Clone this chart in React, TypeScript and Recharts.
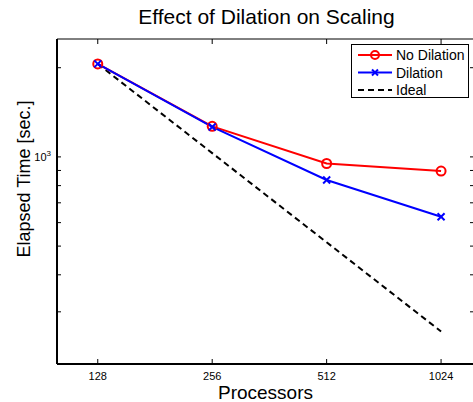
import React from 'react';
import { LineChart, Line, XAxis, YAxis, Legend } from 'recharts';

const processors = [128, 256, 512, 1024];
const noDilation = [2060, 1268, 950, 896];
const dilation = [2060, 1262, 836, 628];
const ideal = [2060, 1030, 515, 257.5];

const xTicks = [128, 256, 512, 1024];
const yTicks = [200, 300, 400, 500, 600, 700, 800, 900, 1000, 2000];
const yLabelled = [1000];

const FONT = '"Liberation Sans", Arial, Helvetica, sans-serif';

const data = processors.map((p, i) => ({
  p,
  nd: noDilation[i],
  d: dilation[i],
  ideal: ideal[i],
}));

const CircleDot = (props: any) => {
  const { cx, cy } = props;
  if (cx == null || cy == null) return null;
  return <circle cx={cx} cy={cy} r={4.5} fill="none" stroke="#ff0000" strokeWidth={2} />;
};

const CrossDot = (props: any) => {
  const { cx, cy } = props;
  if (cx == null || cy == null) return null;
  const s = 3.5;
  return (
    <g stroke="#0000ff" strokeWidth={2}>
      <line x1={cx - s} y1={cy - s} x2={cx + s} y2={cy + s} />
      <line x1={cx - s} y1={cy + s} x2={cx + s} y2={cy - s} />
    </g>
  );
};

const YTick = (props: any) => {
  const { x, y, payload } = props;
  if (!yLabelled.includes(payload.value)) return null;
  return (
    <text x={x} y={y + 4} textAnchor="end" fontFamily={FONT} fontSize={11} fill="#000">
      <tspan>10</tspan>
      <tspan dy={-5} fontSize={8}>3</tspan>
    </text>
  );
};

const XTick = (props: any) => {
  const { x, y, payload } = props;
  return (
    <text x={x} y={y + 9} textAnchor="middle" fontFamily={FONT} fontSize={11} fill="#000">
      {payload.value}
    </text>
  );
};

const legendItems = [
  { name: 'No Dilation', color: '#ff0000', kind: 'circle' },
  { name: 'Dilation', color: '#0000ff', kind: 'cross' },
  { name: 'Ideal', color: '#000000', kind: 'dash' },
];

const LegendBox = () => (
  <svg width={119} height={55} style={{ display: 'block' }}>
    <rect x={0.5} y={0.5} width={117} height={53} fill="#fff" stroke="#000" strokeWidth={1} />
    {legendItems.map((it, i) => {
      const cy = 11 + i * 17.5;
      return (
        <g key={it.name}>
          <line
            x1={7}
            x2={41}
            y1={cy}
            y2={cy}
            stroke={it.color}
            strokeWidth={2}
            strokeDasharray={it.kind === 'dash' ? '6 4' : undefined}
          />
          {it.kind === 'circle' && (
            <circle cx={24} cy={cy} r={4} fill="none" stroke={it.color} strokeWidth={2} />
          )}
          {it.kind === 'cross' && (
            <g stroke={it.color} strokeWidth={2}>
              <line x1={21} y1={cy - 3} x2={27} y2={cy + 3} />
              <line x1={21} y1={cy + 3} x2={27} y2={cy - 3} />
            </g>
          )}
          <text x={45} y={cy + 5} fontFamily={FONT} fontSize={14} fill="#000">
            {it.name}
          </text>
        </g>
      );
    })}
  </svg>
);

const YLabel = (props: any) => {
  const cx = 30;
  const cy = 179;
  return (
    <text
      x={cx}
      y={cy}
      transform={`rotate(-90, ${cx}, ${cy})`}
      textAnchor="middle"
      fontFamily={FONT}
      fontSize={18}
      fill="#000"
    >
      Elapsed Time [sec.]
    </text>
  );
};

export default function App() {
  return (
    <div
      style={{
        position: 'absolute',
        left: 0,
        top: 0,
        width: 473,
        height: 402,
        overflow: 'hidden',
        background: '#fff',
      }}
    >
      <div
        style={{
          position: 'absolute',
          left: 0,
          top: 4,
          width: 533,
          textAlign: 'center',
          fontFamily: FONT,
          fontSize: 21,
          lineHeight: '26px',
          color: '#000',
        }}
      >
        Effect of Dilation on Scaling
      </div>
      <div style={{ position: 'absolute', left: 0, top: 0 }}>
        <LineChart
          width={476}
          height={402}
          data={data}
          margin={{ top: 38, right: 1, bottom: 0, left: 0 }}
        >
          <XAxis
            dataKey="p"
            type="number"
            scale="log"
            domain={[100, 1250]}
            allowDataOverflow
            ticks={xTicks}
            tickSize={-5}
            tickMargin={12}
            height={38}
            axisLine={{ stroke: '#000', strokeWidth: 2 }}
            tickLine={{ stroke: '#000', strokeWidth: 1 }}
            tick={<XTick />}
            interval={0}
            label={{
              value: 'Processors',
              position: 'insideBottom',
              offset: 3,
              fontFamily: FONT,
              fontSize: 19,
              fill: '#000',
            }}
          />
          <XAxis
            xAxisId="top"
            orientation="top"
            dataKey="p"
            type="number"
            scale="log"
            domain={[100, 1250]}
            allowDataOverflow
            ticks={xTicks}
            tickSize={-5}
            height={1}
            axisLine={{ stroke: '#000', strokeWidth: 1 }}
            tickLine={{ stroke: '#000', strokeWidth: 1 }}
            tick={() => null}
            interval={0}
          />
          <YAxis
            type="number"
            scale="log"
            domain={[200, 2500]}
            allowDataOverflow
            ticks={yTicks}
            tickSize={-4}
            tickMargin={10}
            width={57}
            axisLine={{ stroke: '#000', strokeWidth: 2 }}
            tickLine={{ stroke: '#000', strokeWidth: 1 }}
            tick={<YTick />}
            interval={0}
            label={<YLabel />}
          />
          <YAxis
            yAxisId="right"
            orientation="right"
            type="number"
            scale="log"
            domain={[200, 2500]}
            allowDataOverflow
            ticks={yTicks}
            tickSize={-4}
            width={1}
            axisLine={{ stroke: '#000', strokeWidth: 1 }}
            tickLine={{ stroke: '#000', strokeWidth: 1 }}
            tick={() => null}
            interval={0}
          />
          <Legend
            layout="vertical"
            align="center"
            verticalAlign="middle"
            content={<LegendBox />}
            wrapperStyle={{ left: 351, top: 44, width: 119, height: 55 }}
          />
          <Line
            dataKey="ideal"
            name="Ideal"
            stroke="#000"
            strokeWidth={2}
            strokeDasharray="6 4"
            dot={false}
            isAnimationActive={false}
          />
          <Line
            dataKey="nd"
            name="No Dilation"
            stroke="#ff0000"
            strokeWidth={2}
            dot={<CircleDot />}
            isAnimationActive={false}
          />
          <Line
            dataKey="d"
            name="Dilation"
            stroke="#0000ff"
            strokeWidth={2}
            dot={<CrossDot />}
            isAnimationActive={false}
          />
        </LineChart>
      </div>
    </div>
  );
}
